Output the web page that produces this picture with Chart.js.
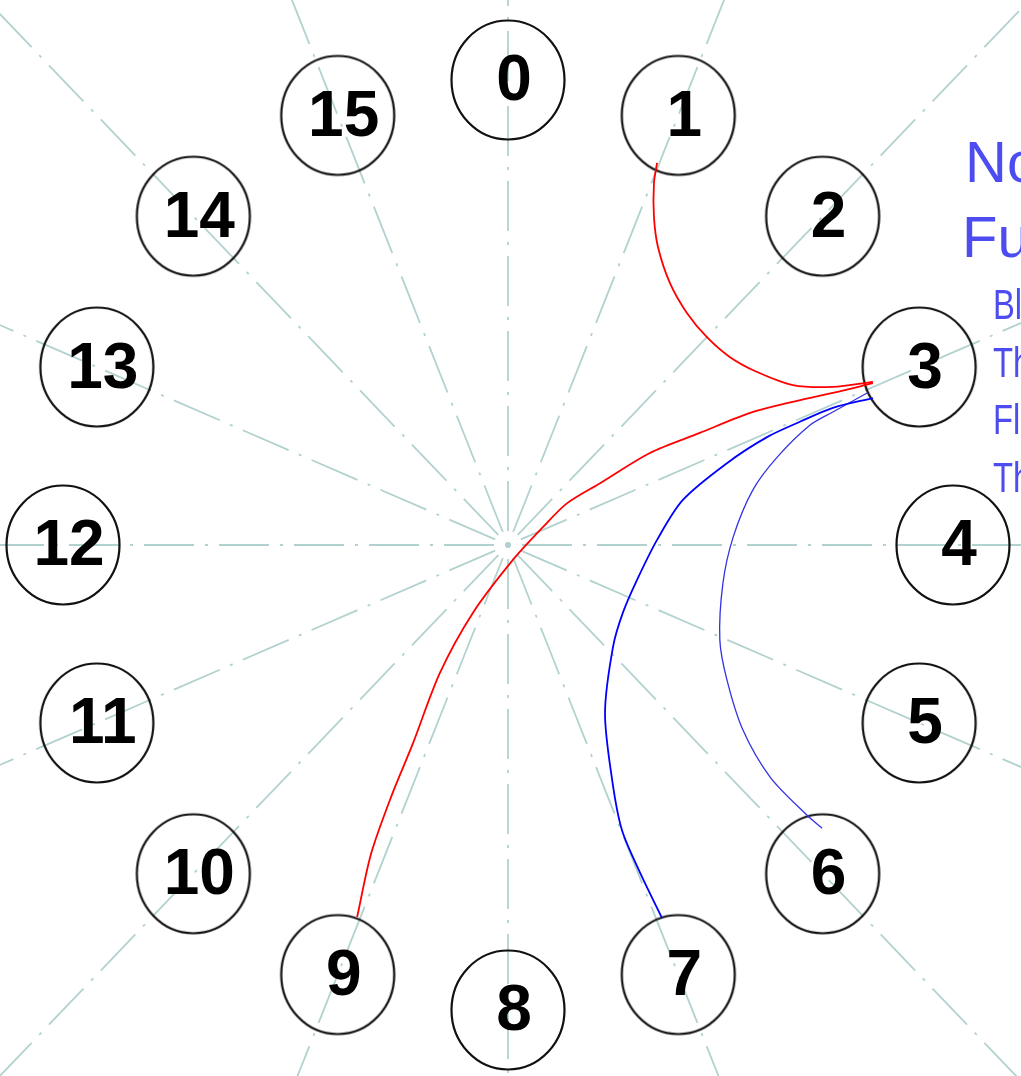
<!DOCTYPE html>
<html>
<head>
<meta charset="utf-8">
<script src="https://cdn.jsdelivr.net/npm/chart.js@4"></script>
<style>
html,body{margin:0;padding:0;background:#fff;overflow:hidden}
#wrap{width:1021px;height:1076px;position:relative}
canvas{display:block}
</style>
</head>
<body>
<div id="wrap"><canvas id="c" width="1021" height="1076"></canvas></div>
<script>
// ---- data ----
const nodeLabels = ['0','1','2','3','4','5','6','7','8','9','10','11','12','13','14','15'];
const legendTitle = ['Nodes', 'Function'];
const legendItems = ['Blue', 'Three', 'Flow', 'The'];

// link curves, points in unit-ring coordinates (ring radius = 1)
const redLink1to3 = [[0.335,0.822],[0.328,0.778],[0.328,0.705],[0.337,0.641],[0.364,0.563],[0.402,0.499],[0.447,0.447],[0.499,0.404],[0.560,0.372],[0.640,0.344],[0.730,0.340],[0.820,0.351]];
const redLink3to9 = [[0.820,0.348],[0.730,0.327],[0.627,0.305],[0.544,0.284],[0.431,0.241],[0.319,0.198],[0.207,0.133],[0.133,0.090],[0.079,0.039],[0.011,-0.032],[-0.079,-0.146],[-0.153,-0.275],[-0.215,-0.430],[-0.262,-0.540],[-0.308,-0.665],[-0.339,-0.800]];
const blueLink3to7 = [[0.820,0.316],[0.730,0.295],[0.656,0.265],[0.582,0.232],[0.492,0.176],[0.393,0.097],[0.335,0.011],[0.290,-0.075],[0.258,-0.146],[0.236,-0.219],[0.218,-0.361],[0.234,-0.505],[0.256,-0.613],[0.297,-0.705],[0.346,-0.802]];
const blueLink3to6 = [[0.807,0.327],[0.730,0.286],[0.679,0.258],[0.605,0.189],[0.550,0.118],[0.506,0.017],[0.483,-0.082],[0.476,-0.204],[0.492,-0.290],[0.528,-0.398],[0.589,-0.499],[0.672,-0.581],[0.706,-0.609]];

// ---- layout ----
const N = nodeLabels.length;
const nodePos = nodeLabels.map((_, i) => {
  const a = i * 2 * Math.PI / N;
  return { x: Math.sin(a), y: Math.cos(a) };
});
const toXY = arr => arr.map(p => ({ x: p[0], y: p[1] }));

const rayColor = 'rgb(178,210,207)';
const rayDatasets = nodePos.map(p => ({
  data: [{ x: 0, y: 0 }, { x: p.x * 2.2, y: p.y * 2.2 }],
  showLine: true,
  borderColor: rayColor,
  borderWidth: 1.8,
  borderDash: [3, 11, 50, 11],
  pointRadius: 0,
  order: 3
}));

// slightly elliptical node marker (picture is stretched vertically)
function makeRing() {
  const c = document.createElement('canvas');
  c.width = 118; c.height = 124;
  const g = c.getContext('2d');
  g.strokeStyle = '#111';
  g.lineWidth = 2.2;
  g.beginPath();
  g.ellipse(59, 62, 56.5, 59.5, 0, 0, Math.PI * 2);
  g.stroke();
  return c;
}
const ring = makeRing();

function linkDs(arr, color, w) {
  return {
    data: toXY(arr),
    showLine: true,
    borderColor: color,
    borderWidth: w,
    tension: 0.3,
    pointRadius: 0,
    order: 1
  };
}

const labelPlugin = {
  id: 'labels',
  afterDatasetsDraw(chart) {
    const ctx = chart.ctx;
    const xs = chart.scales.x, ys = chart.scales.y;
    ctx.save();
    ctx.fillStyle = '#000';
    ctx.textAlign = 'center';
    ctx.textBaseline = 'alphabetic';
    ctx.font = 'bold 64px "Liberation Sans", Arial, sans-serif';
    nodePos.forEach((p, i) => {
      const px = xs.getPixelForValue(p.x), py = ys.getPixelForValue(p.y);
      ctx.save();
      ctx.translate(px + 6, py - 3);
      ctx.scale(1.0, 1.02);
      ctx.fillText(nodeLabels[i], 0, 23);
      ctx.restore();
    });
    // side text (cut off by the right edge)
    ctx.fillStyle = 'rgb(76,76,240)';
    ctx.textAlign = 'left';
    ctx.font = '58px "Liberation Sans", Arial, sans-serif';
    const bx = xs.getPixelForValue(1.0), ty = ys.getPixelForValue(0);
    ctx.fillText(legendTitle[0], bx + 12, ty - 363);
    ctx.fillText(legendTitle[1], bx + 9, ty - 288);
    ctx.font = '42px "Liberation Sans", Arial, sans-serif';
    legendItems.forEach((t, i) => {
      ctx.save();
      ctx.translate(bx + 40, ty - 226 + i * 57.5);
      ctx.scale(0.78, 1);
      ctx.fillText(t, 0, 0);
      ctx.restore();
    });
    ctx.restore();
  }
};

new Chart(document.getElementById('c'), {
  type: 'scatter',
  data: {
    datasets: [
      linkDs(redLink1to3, 'rgb(255,0,0)', 1.8),
      linkDs(redLink3to9, 'rgb(255,0,0)', 1.8),
      linkDs(blueLink3to7, 'rgb(0,0,255)', 1.8),
      linkDs(blueLink3to6, 'rgb(50,50,230)', 1.3),
      {
        data: nodePos,
        pointStyle: ring,
        pointRadius: 57,
        showLine: false,
        clip: false,
        order: 2
      },
      ...rayDatasets
    ]
  },
  options: {
    responsive: false,
    animation: false,
    devicePixelRatio: 1,
    events: [],
    layout: { padding: 0, autoPadding: false },
    plugins: { legend: { display: false }, tooltip: { enabled: false } },
    scales: {
      x: { type: 'linear', min: -508 / 445, max: 513 / 445, display: false },
      y: { type: 'linear', min: -531 / 465, max: 545 / 465, display: false }
    }
  },
  plugins: [labelPlugin]
});
</script>
</body>
</html>
